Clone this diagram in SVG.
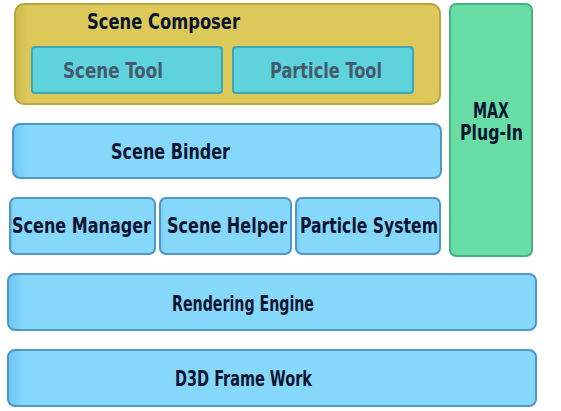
<svg xmlns="http://www.w3.org/2000/svg" width="561" height="411" viewBox="0 0 561 411">
<style>
text{font-family:"DejaVu Sans Condensed","Liberation Sans",sans-serif;font-weight:bold;font-size:21px;text-anchor:middle;fill:#0b1430}
.blue{fill:url(#gb);stroke:#4f95c8;stroke-width:2}
.cyan{fill:#5fd3dc;stroke:#3ea6b4;stroke-width:2}
.gray{fill:#455a6c}
</style>
<defs>
<linearGradient id="gb" x1="0" y1="0" x2="1" y2="0">
<stop offset="0" stop-color="#6cc5f2"/><stop offset="0.03" stop-color="#86d8fb"/><stop offset="1" stop-color="#86d8fb"/>
</linearGradient>
<linearGradient id="gy" x1="0" y1="0" x2="1" y2="0">
<stop offset="0" stop-color="#cdb84a"/><stop offset="0.03" stop-color="#dcc95a"/><stop offset="1" stop-color="#dcc95a"/>
</linearGradient>
</defs>
<g id="scene-composer">
<rect x="15" y="4" width="425" height="100" rx="9" fill="url(#gy)" stroke="#b9a63d" stroke-width="2"/>
<text x="163.5" y="29" textLength="153" lengthAdjust="spacingAndGlyphs">Scene Composer</text>
</g>
<g id="scene-tool">
<rect class="cyan" x="32" y="47" width="190" height="46" rx="3"/>
<text class="gray" x="113" y="78" textLength="100" lengthAdjust="spacingAndGlyphs">Scene Tool</text>
</g>
<g id="particle-tool">
<rect class="cyan" x="233" y="47" width="180" height="46" rx="3"/>
<text class="gray" x="326" y="78" textLength="112" lengthAdjust="spacingAndGlyphs">Particle Tool</text>
</g>
<g id="max-plugin">
<rect x="450" y="4" width="82" height="252" rx="6" fill="#68dea6" stroke="#48b080" stroke-width="2"/>
<text x="491" y="118" textLength="36" lengthAdjust="spacingAndGlyphs">MAX</text>
<text x="491.5" y="140" textLength="63" lengthAdjust="spacingAndGlyphs">Plug-In</text>
</g>
<g id="scene-binder">
<rect class="blue" x="13" y="124" width="428" height="54" rx="7"/>
<text x="170.5" y="159" textLength="119" lengthAdjust="spacingAndGlyphs">Scene Binder</text>
</g>
<g id="scene-manager">
<rect class="blue" x="10" y="198" width="145" height="56" rx="6"/>
<text x="81.5" y="233" textLength="139" lengthAdjust="spacingAndGlyphs">Scene Manager</text>
</g>
<g id="scene-helper">
<rect class="blue" x="160" y="198" width="131" height="56" rx="6"/>
<text x="227" y="233" textLength="120" lengthAdjust="spacingAndGlyphs">Scene Helper</text>
</g>
<g id="particle-system">
<rect class="blue" x="296" y="198" width="144" height="56" rx="6"/>
<text x="369" y="233" textLength="138" lengthAdjust="spacingAndGlyphs">Particle System</text>
</g>
<g id="rendering-engine">
<rect class="blue" x="8" y="274" width="528" height="56" rx="7"/>
<text x="243" y="311" textLength="142" lengthAdjust="spacingAndGlyphs">Rendering Engine</text>
</g>
<g id="d3d-frame-work">
<rect class="blue" x="8" y="350" width="528" height="56" rx="7"/>
<text x="243.5" y="386" textLength="137" lengthAdjust="spacingAndGlyphs">D3D Frame Work</text>
</g>
<g id="connectors"></g>
</svg>
